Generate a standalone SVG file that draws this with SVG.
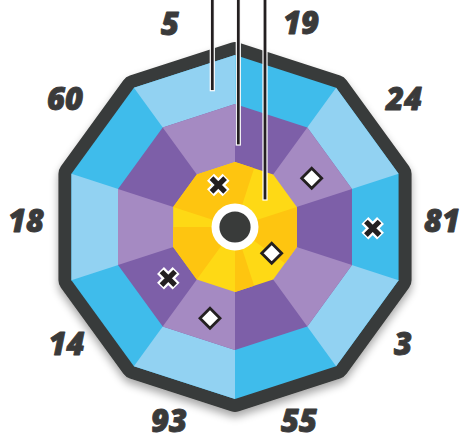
<svg xmlns="http://www.w3.org/2000/svg" width="464" height="441" viewBox="0 0 464 441">
<defs>
<filter id="sh" x="-20%" y="-20%" width="140%" height="140%">
<feGaussianBlur in="SourceAlpha" stdDeviation="4"/>
<feOffset dx="0" dy="5" result="b"/>
<feComponentTransfer><feFuncA type="linear" slope="0.35"/></feComponentTransfer>
<feMerge><feMergeNode/><feMergeNode in="SourceGraphic"/></feMerge>
</filter>
<g id="xm">
<path d="M-7.8,-7.8 L7.8,7.8 M-7.8,7.8 L7.8,-7.8" stroke="#ffffff" stroke-width="9.8" fill="none"/>
<path d="M-6.8,-6.8 L6.8,6.8 M-6.8,6.8 L6.8,-6.8" stroke="#231f20" stroke-width="5.2" fill="none"/>
</g>
<path id="dm" d="M0,-10 L10,0 L0,10 L-10,0 Z" fill="#ffffff" stroke="#231f20" stroke-width="2.8" stroke-linejoin="miter"/>
</defs>
<style>
.lbl{font-family:"Open Sans","Liberation Sans",sans-serif;font-weight:800;font-style:italic;font-size:31px;fill:#3a3a3a;stroke:#3a3a3a;stroke-width:0.9;stroke-linejoin:round;text-anchor:middle}
.cy{fill:#3fbceb}.lb{fill:#92d2f2}.dp{fill:#7d5fa8}.lp{fill:#a58ac2}.yl{fill:#fed915}.yd{fill:#fec510}
.bar{fill:#231f20;stroke:#ffffff;stroke-width:1.2}
</style>
<rect width="464" height="441" fill="#ffffff"/>
<g id="target">
<polygon filter="url(#sh)" fill="#393b3a" stroke="#393b3a" stroke-width="26" stroke-linejoin="round" points="235,55 336.10,87.85 398.58,173.85 398.58,280.15 336.10,366.15 235,399 133.90,366.15 71.42,280.15 71.42,173.85 133.90,87.85"/>
<polygon class="cy" points="235,55 336.10,87.85 398.58,173.85 398.58,280.15 336.10,366.15 235,399 133.90,366.15 71.42,280.15 71.42,173.85 133.90,87.85"/>
<polygon class="lb" points="235,227 336.10,87.85 398.58,173.85"/>
<polygon class="lb" points="235,227 398.58,280.15 336.10,366.15"/>
<polygon class="lb" points="235,227 235,399 133.90,366.15"/>
<polygon class="lb" points="235,227 71.42,280.15 71.42,173.85"/>
<polygon class="lb" points="235,227 133.90,87.85 235,55"/>
<polygon class="dp" points="235,104 307.30,127.49 351.98,188.99 351.98,265.01 307.30,326.51 235,350 162.70,326.51 118.02,265.01 118.02,188.99 162.70,127.49"/>
<polygon class="lp" points="235,227 307.30,127.49 351.98,188.99"/>
<polygon class="lp" points="235,227 351.98,265.01 307.30,326.51"/>
<polygon class="lp" points="235,227 235,350 162.70,326.51"/>
<polygon class="lp" points="235,227 118.02,265.01 118.02,188.99"/>
<polygon class="lp" points="235,227 162.70,127.49 235,104"/>
<polygon class="yl" points="235,162 273.21,174.41 296.82,206.91 296.82,247.09 273.21,279.59 235,292 196.79,279.59 173.18,247.09 173.18,206.91 196.79,174.41"/>
<polygon class="yd" points="235,227 296.82,206.91 296.82,227 296.82,247.09 285.01,263.34"/>
<polygon class="yd" points="235,227 254.10,285.80 235,292"/>
<polygon class="yd" points="235,227 196.79,279.59 184.99,263.34 173.18,247.09 173.18,227"/>
<polygon class="yd" points="235,227 173.18,206.91 184.99,190.66 196.79,174.41 215.90,168.20 235,162 254.10,168.20"/>
<circle cx="235" cy="227" r="23.5" fill="#ffffff"/>
<circle cx="235" cy="227" r="15.6" fill="#393b3a"/>
</g>
<g id="connectors">
<rect class="bar" x="210.3" y="-2" width="4" height="92.7"/>
<rect class="bar" x="236.3" y="-2" width="4" height="147"/>
<rect class="bar" x="263" y="-2" width="4" height="202"/>
</g>
<g id="markers">
<use href="#xm" x="218.3" y="185"/>
<use href="#xm" x="372.7" y="228.3"/>
<use href="#xm" x="168.3" y="278.3"/>
<use href="#dm" x="311.7" y="178.3"/>
<use href="#dm" x="271.7" y="253.3"/>
<use href="#dm" x="210" y="318.3"/>
</g>
<g id="labels">
<text class="lbl" x="170" y="35">5</text>
<text class="lbl" x="301" y="33.5">19</text>
<text class="lbl" x="65" y="110">60</text>
<text class="lbl" x="404" y="110">24</text>
<text class="lbl" x="26" y="231.7">18</text>
<text class="lbl" x="442" y="231.7">81</text>
<text class="lbl" x="66.5" y="355">14</text>
<text class="lbl" x="403" y="355">3</text>
<text class="lbl" x="169" y="431.7">93</text>
<text class="lbl" x="299" y="431.7">55</text>
</g>
</svg>
